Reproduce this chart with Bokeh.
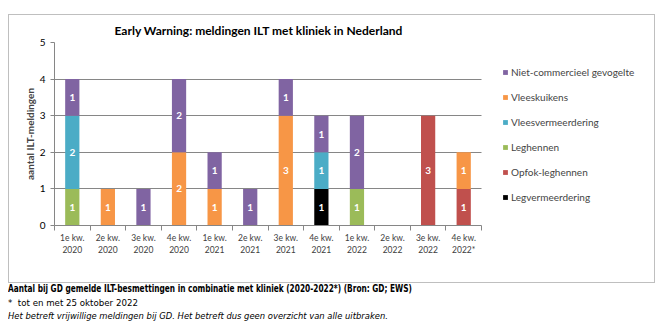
from bokeh.plotting import figure
from bokeh.models import FixedTicker, Legend, LegendItem, Div, ColumnDataSource, Range1d
from bokeh.layouts import column
from bokeh.embed import file_html
from bokeh.resources import INLINE
from bokeh.core.properties import value

categories = ["1e kw.\n2020", "2e kw.\n2020", "3e kw.\n2020", "4e kw.\n2020",
              "1e kw.\n2021", "2e kw.\n2021", "3e kw.\n2021", "4e kw.\n2021",
              "1e kw.\n2022", "2e kw.\n2022", "3e kw.\n2022", "4e kw.\n2022*"]

# stacked bottom -> top
legvermeerdering   = [0, 0, 0, 0, 0, 0, 0, 1, 0, 0, 0, 0]
opfok_leghennen    = [0, 0, 0, 0, 0, 0, 0, 0, 0, 0, 3, 1]
leghennen          = [1, 0, 0, 0, 0, 0, 0, 0, 1, 0, 0, 0]
vleesvermeerdering = [2, 0, 0, 0, 0, 0, 0, 1, 0, 0, 0, 0]
vleeskuikens       = [0, 1, 0, 2, 1, 0, 3, 0, 0, 0, 0, 1]
niet_commercieel   = [1, 0, 1, 2, 1, 1, 1, 1, 2, 0, 0, 0]

series_names = ["Legvermeerdering", "Opfok-leghennen", "Leghennen",
                "Vleesvermeerdering", "Vleeskuikens", "Niet-commercieel gevogelte"]
series_values = [legvermeerdering, opfok_leghennen, leghennen,
                 vleesvermeerdering, vleeskuikens, niet_commercieel]
colors = ["#000000", "#C0504D", "#9BBB59", "#4BACC6", "#F79646", "#8064A2"]

FONT = "Lato"
N = len(categories)

xs = [i + 0.5 for i in range(N)]
keys = ["s%d" % i for i in range(len(series_names))]
data = {"x": xs}
for k, v in zip(keys, series_values):
    data[k] = v
source = ColumnDataSource(data)

# frame spans the full width; the category axis occupies the left part (legend on the right)
FRAME_LEFT, AXIS_RIGHT, FRAME_RIGHT = 45, 472, 646
x_end = N * (FRAME_RIGHT - FRAME_LEFT) / (AXIS_RIGHT - FRAME_LEFT)

p = figure(width=647, height=269, output_backend="svg", toolbar_location=None,
           x_range=Range1d(0, x_end), y_range=Range1d(0, 5),
           min_border_left=FRAME_LEFT, min_border_right=1, min_border_top=27, min_border_bottom=59,
           margin=(14, 0, 0, 8), styles={"border": "1px solid #BFBFBF"})

renderers = p.vbar_stack(keys, x="x", width=0.4, color=colors, line_color=None, source=source)

# segment labels
lx, ly, lt = [], [], []
bottoms = [0] * N
for vals in series_values:
    for i, v in enumerate(vals):
        if v > 0:
            lx.append(xs[i])
            ly.append(bottoms[i] + v / 2)
            lt.append(str(v))
        bottoms[i] += v
p.text(x=lx, y=ly, text=lt, text_align="center", text_baseline="middle",
       text_color="white", text_font=value(FONT), text_font_style="bold",
       text_font_size="10px")

# title
p.title.text = "Early Warning: meldingen ILT met kliniek in Nederland"
p.title.align = "left"
p.title.offset = 60
p.title.text_font = FONT
p.title.text_font_size = "12px"
p.title.text_font_style = "bold"
p.title.text_color = "#000000"

# axes
xa = p.xaxis[0]
xa.ticker = FixedTicker(ticks=xs, minor_ticks=list(range(N + 1)))
xa.bounds = (0, N)
xa.major_label_overrides = {x: c for x, c in zip(xs, categories)}
xa.major_tick_out = 0
xa.major_tick_in = 0
xa.minor_tick_out = 5
xa.minor_tick_in = 0
xa.minor_tick_line_color = "#868686"
xa.axis_line_color = "#868686"
xa.major_label_text_font = FONT
xa.major_label_text_font_size = "8.5px"
xa.major_label_text_color = "#404040"
xa.major_label_standoff = 2

ya = p.yaxis[0]
ya.ticker = FixedTicker(ticks=[0, 1, 2, 3, 4, 5])
ya.major_tick_out = 4
ya.major_tick_in = 0
ya.minor_tick_out = 0
ya.minor_tick_in = 0
ya.major_tick_line_color = "#868686"
ya.axis_line_color = "#868686"
ya.major_label_text_font = FONT
ya.major_label_text_font_size = "10px"
ya.major_label_text_color = "#000000"
ya.axis_label = "aantal ILT-meldingen"
ya.axis_label_text_font = FONT
ya.axis_label_text_font_size = "10px"
ya.axis_label_text_font_style = "bold"
ya.axis_label_standoff = 1

p.xgrid.visible = False
p.ygrid.grid_line_color = "#868686"
p.ygrid.ticker = FixedTicker(ticks=[0, 1, 2, 3, 4, 5])
p.ygrid.cross_bounds = (0, N)
p.outline_line_color = None

items = [LegendItem(label=n, renderers=[r]) for n, r in zip(series_names, renderers)][::-1]
legend = Legend(items=items, location=(448, 22), padding=0, margin=0,
                glyph_width=6, glyph_height=6, label_height=10, spacing=13,
                label_text_font=FONT, label_text_font_size="10px",
                label_standoff=3, border_line_color=None, background_fill_alpha=0)
p.add_layout(legend, "center")

footer = Div(text=(
    "<div style='font-family:\"DejaVu Sans\";color:#000;margin-top:-1px'>"
    "<div style='font-weight:bold;font-size:11px;line-height:13.5px;white-space:nowrap;"
    "transform:scaleX(0.673);transform-origin:0 0'>Aantal bij GD gemelde ILT-besmettingen in combinatie met kliniek (2020-2022*) (Bron: GD; EWS)</div>"
    "<div style='font-size:9.5px;line-height:13.5px;white-space:nowrap;"
    "transform:scaleX(0.91);transform-origin:0 0'>*&nbsp; tot en met 25 oktober 2022</div>"
    "<div style='font-size:9.5px;font-style:italic;line-height:13.5px;white-space:nowrap;"
    "transform:scaleX(0.885);transform-origin:0 0'>Het betreft vrijwillige meldingen bij GD. Het betreft dus geen overzicht van alle uitbraken.</div>"
    "</div>"), width=655, height=44, margin=(0, 0, 0, 8))

layout = column(p, footer, spacing=0)

open("out.html", "w").write(file_html(layout, INLINE))
